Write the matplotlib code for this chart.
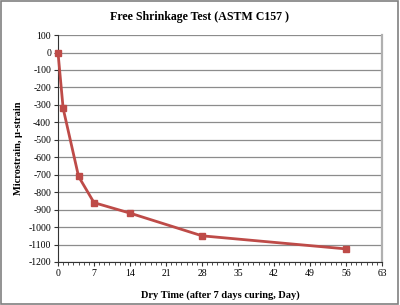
import matplotlib
matplotlib.use('Agg')
import matplotlib.pyplot as plt
from matplotlib.ticker import MultipleLocator
from matplotlib.patches import Rectangle

days = [0, 1, 4, 7, 14, 28, 56]
strain = [0, -320, -710, -860, -920, -1050, -1125]

plt.rcParams['font.family'] = ['Liberation Serif', 'DejaVu Serif']
plt.rcParams['axes.unicode_minus'] = False

fig = plt.figure(figsize=(4.0, 3.05), dpi=100)
ax = fig.add_axes([0.145, 0.141, 0.81, 0.744])

ax.plot(days, strain, color='#BE4B48', linewidth=2, marker='s', markersize=5,
        markerfacecolor='#BE4B48', markeredgecolor='#BE4B48', clip_on=False, zorder=3)

ax.set_xlim(0, 63)
ax.set_ylim(-1200, 100)
ax.xaxis.set_major_locator(MultipleLocator(7))
ax.xaxis.set_minor_locator(MultipleLocator(1))
ax.yaxis.set_major_locator(MultipleLocator(100))
ax.grid(axis='y', color='#8c8c8c', linewidth=0.9)
ax.set_axisbelow(True)

ax.tick_params(axis='both', labelsize=7, direction='out', color='#333333', length=3, width=0.8, pad=2)
ax.tick_params(axis='x', which='minor', length=2, width=0.6, color='#333333')

ax.spines['top'].set_visible(False)
ax.spines['right'].set_color('#b0b0b0')
ax.spines['right'].set_linewidth(1.6)
ax.spines['left'].set_color('#333333')
ax.spines['bottom'].set_color('#333333')

# title is centred on the whole figure, not the axes
fig.text(0.5, 0.944, 'Free Shrinkage Test (ASTM C157 )', fontsize=8.6, fontweight='bold',
         ha='center', va='center')
ax.set_xlabel('Dry Time (after 7 days curing, Day)', fontsize=7.5, fontweight='bold', labelpad=9)
ax.set_ylabel('Microstrain, μ-strain', fontsize=7.5, fontweight='bold', labelpad=4)

fig.patches.append(Rectangle((0.003, 0.003), 0.992, 0.994, transform=fig.transFigure,
                             fill=False, edgecolor='#808080', linewidth=1.2))

fig.savefig('out.png', dpi=100)
